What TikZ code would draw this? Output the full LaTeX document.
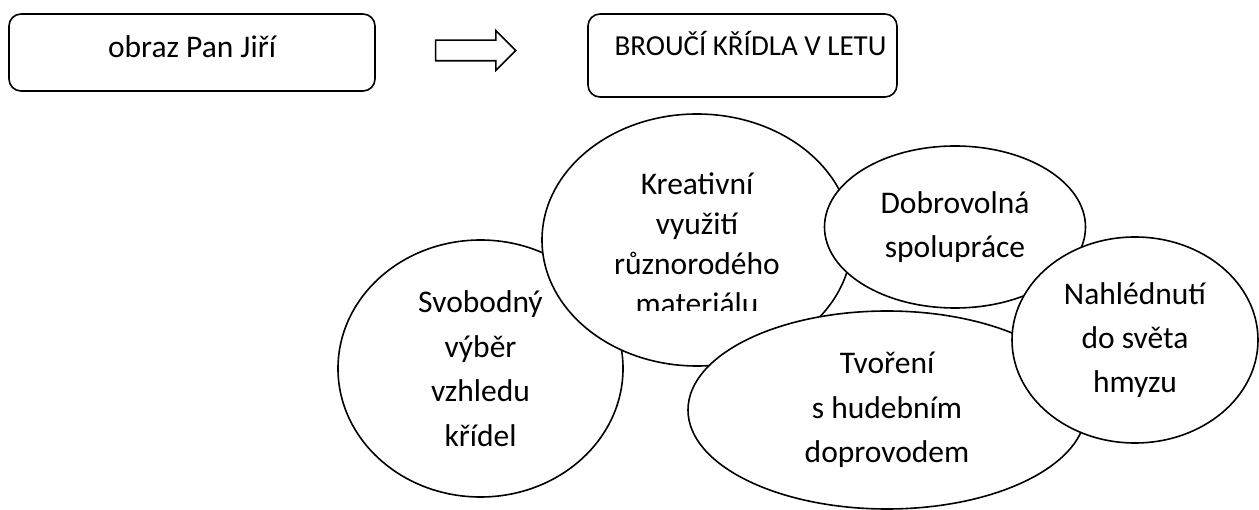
\documentclass[tikz,border=0pt]{standalone}
\usepackage{fontspec}
\setmainfont{Carlito}
\usetikzlibrary{shapes.geometric,shapes.arrows}

\tikzset{
  pismo/.style={font=\fontsize{31.5pt}{#1}\selectfont},
  ramecek/.style={draw, line width=1.6pt, rounded corners=12pt, fill=white},
  bublina/.style={draw, ellipse, line width=1.6pt, fill=white, inner sep=0pt, align=center},
}

\begin{document}
\begin{tikzpicture}[x=1pt,y=1pt]
\useasboundingbox (0,0) rectangle (1259,-510);
% horni radek
\node[ramecek, minimum width=366pt, minimum height=77pt, pismo=38pt, text height=22pt, text depth=11pt] (obraz) at (192,-52.5) {obraz Pan Jiří};
\node[draw, single arrow, line width=1.6pt, minimum height=80pt, minimum width=38pt, single arrow head extend=9.5pt, inner sep=9.5pt] (sipka) at (470.5,-50.5) {};
\node[ramecek, minimum width=309pt, minimum height=83pt, font=\fontsize{29pt}{34pt}\selectfont, text width=288pt, align=flush right, text height=20pt, text depth=20pt] (brouci) at (742.5,-55.5) {BROUČÍ KŘÍDLA V LETU};
% bubliny
\node[bublina, minimum width=285pt, minimum height=257pt, pismo=44.5pt] (svoboda) at (480.5,-368.5) {Svobodný\\výběr\\vzhledu\\křídel};
\node[bublina, minimum width=310pt, minimum height=252pt] (kreativ) at (697,-240) {};
\begin{scope}
\clip ([yshift=-71pt]kreativ.west) rectangle (kreativ.north east);
\node[align=center, inner sep=0pt, pismo=40pt] (kreativ-text) at ([yshift=-4pt]kreativ.center) {Kreativní\\využití\\různorodého\\materiálu};
\end{scope}
\node[bublina, minimum width=261pt, minimum height=162pt, pismo=44pt] (spoluprace) at (955,-227) {Dobrovolná\\spolupráce};
\node[bublina, minimum width=398pt, minimum height=198pt, pismo=44.5pt] (hudba) at (887,-410) {Tvoření\\s hudebním\\doprovodem};
\node[bublina, minimum width=246pt, minimum height=206pt, pismo=44pt] (hmyz) at (1135,-340) {Nahlédnutí\\do světa\\hmyzu};
\end{tikzpicture}
\end{document}
